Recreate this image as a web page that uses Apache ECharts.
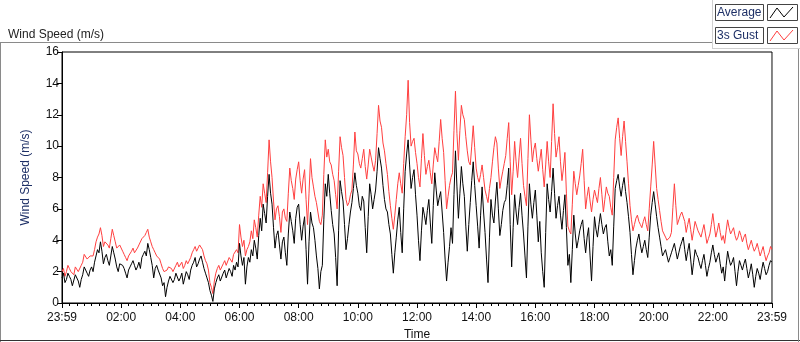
<!DOCTYPE html>
<html lang="en" style="height: 100%">
<head>
    <meta charset="utf-8"/>
    <meta name="viewport" content="width=device-width, initial-scale=1.0"/>
</head>
<body style="height: 100%; margin: 0; overflow: hidden; background: #fff">
<div id="container" style="width: 800px; height: 342px"></div>

<script type="text/javascript" src="https://cdn.jsdelivr.net/npm/echarts@6/dist/echarts.min.js"></script>

<script type="text/javascript">
    // one sample every 3 minutes, starting at 23:59 of the previous day
    var stepMin = 3;

    var tickLabels = ["23:59", "02:00", "04:00", "06:00", "08:00", "10:00", "12:00",
        "14:00", "16:00", "18:00", "20:00", "22:00", "23:59"];

    // Average wind speed (m/s), one row per hour
    var average = [
        1.6, 1.9, 1.3, 1.5, 1.9, 1.7, 1.5, 1.1, 1.2, 1.8, 1.7, 1.4, 1.0, 1.5, 1.8, 2.3, 2.2, 1.9, 1.7, 2.1,
        2.3, 2.0, 2.6, 3.0, 3.4, 3.2, 3.9, 3.3, 2.5, 2.9, 3.1, 2.7, 2.4, 3.0, 3.6, 3.2, 2.8, 2.3, 2.0, 2.5,
        2.6, 2.4, 2.2, 1.9, 1.6, 2.1, 2.3, 2.5, 2.7, 2.4, 2.1, 2.3, 2.6, 2.2, 2.9, 3.1, 3.3, 3.0, 3.8, 3.4,
        2.9, 2.4, 1.6, 2.2, 2.4, 2.1, 2.0, 1.6, 1.1, 1.3, 0.4, 1.0, 1.4, 1.7, 1.8, 1.3, 1.5, 1.9, 1.8, 1.4,
        1.6, 1.9, 1.2, 1.6, 2.0, 1.8, 1.5, 2.1, 2.4, 2.6, 2.9, 2.3, 2.5, 2.8, 3.0, 2.6, 2.2, 1.9, 1.6, 1.3,
        0.8, 0.5, 0.1, 0.9, 1.3, 1.6, 1.8, 1.4, 1.5, 1.9, 2.1, 1.6, 1.7, 2.2, 2.0, 1.7, 2.4, 2.1, 2.6, 2.3,
        3.8, 3.0, 2.4, 2.9, 1.2, 2.3, 2.9, 2.6, 3.4, 3.0, 4.0, 3.5, 2.8, 4.3, 5.4, 4.6, 6.3, 5.7, 5.1, 6.8,
        8.2, 7.0, 6.3, 4.8, 3.5, 4.3, 4.6, 3.7, 2.8, 3.9, 4.2, 3.2, 2.4, 4.4, 5.8, 5.2, 4.6, 3.8, 5.4, 6.1,
        6.3, 5.0, 4.0, 4.9, 5.5, 3.4, 1.2, 3.9, 5.8, 5.1, 4.8, 4.0, 3.0, 2.2, 0.9, 2.0, 2.4, 5.3, 7.6, 6.8,
        8.2, 7.0, 5.9, 5.0, 4.4, 2.9, 1.1, 4.6, 7.8, 7.1, 6.5, 5.0, 3.4, 4.1, 5.0, 5.8, 6.4, 7.3, 8.3, 7.5,
        7.0, 6.2, 5.9, 6.8, 6.5, 4.8, 3.2, 5.5, 7.6, 6.9, 6.0, 6.6, 7.2, 8.4, 9.9, 9.2, 8.6, 7.5, 6.6, 6.0,
        5.8, 5.0, 4.4, 3.1, 1.9, 3.2, 4.2, 5.3, 6.1, 4.5, 3.2, 6.0, 8.4, 9.5, 10.4, 8.8, 7.3, 8.0, 8.5, 6.9,
        5.6, 4.0, 2.7, 4.6, 6.1, 5.6, 5.0, 5.9, 6.6, 5.1, 3.8, 6.2, 8.3, 7.2, 6.2, 6.7, 7.1, 5.8, 4.5, 2.8,
        1.4, 2.6, 3.6, 4.8, 3.8, 6.9, 9.7, 7.4, 5.4, 7.0, 8.7, 7.6, 6.8, 4.9, 3.3, 5.0, 6.4, 7.8, 9.0, 7.5,
        6.2, 4.9, 3.5, 5.6, 7.4, 5.8, 4.5, 2.8, 1.3, 4.2, 6.6, 5.6, 5.1, 6.5, 7.7, 6.0, 4.3, 5.0, 5.9, 6.4,
        6.6, 7.5, 8.6, 5.0, 2.3, 4.8, 6.9, 5.8, 5.0, 6.1, 7.0, 5.6, 4.4, 3.0, 1.6, 4.9, 7.6, 6.3, 5.4, 6.4,
        7.2, 5.6, 3.9, 5.2, 3.2, 2.0, 1.0, 4.5, 7.6, 6.6, 5.8, 7.1, 8.6, 7.0, 5.4, 6.2, 6.8, 5.6, 4.7, 5.9,
        6.9, 4.8, 2.4, 3.1, 1.3, 3.4, 5.6, 4.4, 3.5, 4.0, 4.6, 5.0, 5.3, 4.1, 3.2, 4.2, 4.8, 3.0, 1.4, 3.6,
        5.5, 4.7, 4.2, 5.0, 5.7, 5.0, 4.4, 4.8, 5.0, 3.9, 3.0, 3.4, 2.4, 4.9, 7.3, 7.8, 8.2, 7.4, 6.8, 7.5,
        8.0, 7.1, 6.4, 5.5, 4.5, 3.1, 1.8, 2.7, 3.5, 4.0, 4.4, 3.7, 3.2, 3.6, 4.0, 3.4, 2.9, 4.2, 5.6, 6.4,
        7.1, 6.3, 5.5, 4.8, 4.2, 3.6, 3.0, 3.2, 3.4, 3.0, 2.6, 2.9, 3.2, 3.5, 3.8, 3.3, 2.8, 3.2, 3.6, 3.9,
        4.2, 3.4, 2.7, 3.3, 3.8, 2.8, 1.8, 2.6, 3.4, 3.1, 2.9, 2.5, 2.2, 2.7, 3.1, 2.4, 1.7, 2.2, 2.6, 3.2,
        3.7, 3.1, 2.6, 2.9, 3.2, 2.5, 1.9, 2.3, 1.4, 2.4, 3.3, 2.8, 2.4, 2.6, 2.9, 2.0, 1.1, 2.0, 2.7, 2.4,
        2.1, 2.5, 2.8, 2.2, 1.6, 2.0, 2.5, 1.8, 1.0, 1.7, 2.2, 1.9, 1.5, 2.1, 2.6, 2.2, 1.8, 2.0, 2.4, 2.7,
        2.6
    ];

    // 3 second gust (m/s)
    var gust = [
        2.0, 2.2, 1.7, 2.0, 2.4, 2.2, 2.0, 1.9, 1.8, 2.3, 2.2, 2.0, 1.9, 2.4, 2.6, 3.1, 3.0, 2.8, 2.7, 3.0,
        3.1, 3.0, 3.4, 3.9, 4.2, 4.4, 4.8, 4.3, 3.6, 3.9, 4.0, 3.7, 3.5, 4.1, 4.7, 4.3, 3.9, 3.5, 3.4, 3.7,
        3.6, 3.3, 3.1, 2.9, 2.7, 3.0, 2.9, 3.3, 3.5, 3.2, 3.3, 3.5, 3.7, 3.6, 4.1, 4.0, 4.3, 4.5, 4.7, 4.2,
        3.9, 3.6, 3.4, 3.2, 3.0, 2.9, 2.8, 2.5, 2.2, 2.0, 1.9, 2.1, 2.3, 2.4, 2.2, 2.0, 2.1, 2.4, 2.6, 2.3,
        2.4, 2.6, 2.2, 2.4, 2.7, 2.5, 2.6, 2.9, 3.2, 3.4, 3.6, 3.3, 3.5, 3.7, 3.8, 3.4, 3.0, 2.7, 2.5, 2.1,
        1.3, 1.0, 0.6, 1.4, 1.9, 2.2, 2.4, 2.1, 2.2, 2.5, 2.7, 2.4, 2.5, 2.9, 2.8, 2.6, 3.1, 3.0, 3.4, 3.2,
        5.0, 4.2, 3.6, 4.0, 3.0, 3.4, 3.6, 3.9, 4.6, 4.1, 5.3, 4.8, 4.2, 5.6, 6.8, 6.1, 7.6, 7.0, 6.4, 8.3,
        10.4, 9.0, 8.0, 6.5, 5.3, 6.0, 6.2, 5.5, 4.5, 5.8, 6.0, 5.4, 5.2, 7.0, 8.6, 7.8, 7.3, 6.6, 7.9, 8.5,
        9.0, 7.8, 7.0, 7.9, 8.5, 6.6, 5.0, 7.0, 9.2, 8.0, 7.4, 6.8, 6.4, 5.8, 5.2, 5.0, 5.6, 8.2, 10.4, 9.3,
        9.8, 9.0, 8.8, 8.2, 7.8, 6.9, 6.0, 8.4, 10.6, 9.9, 9.4, 8.0, 6.6, 6.2, 6.4, 6.9, 7.2, 8.8, 10.9, 9.7,
        9.5, 8.9, 8.6, 9.2, 9.8, 8.7, 7.9, 8.8, 9.8, 9.3, 8.8, 8.4, 9.1, 10.8, 12.6, 11.6, 11.2, 10.2, 9.7, 8.9,
        8.2, 7.1, 6.2, 5.4, 4.7, 5.6, 6.6, 7.6, 8.3, 7.6, 7.0, 8.9, 10.6, 12.0, 14.2, 11.5, 10.0, 10.3, 10.5, 9.6,
        8.9, 8.0, 7.4, 9.2, 10.8, 9.4, 8.2, 8.7, 9.1, 8.3, 7.6, 8.8, 9.9, 9.4, 9.0, 10.3, 11.7, 10.5, 9.6, 7.8,
        6.0, 6.8, 7.5, 8.0, 8.3, 11.0, 13.5, 10.8, 9.1, 11.0, 12.6, 12.0, 11.7, 10.6, 9.7, 9.0, 8.8, 10.0, 11.3, 9.9,
        8.6, 8.0, 7.7, 8.2, 8.8, 8.0, 7.2, 6.8, 6.4, 7.3, 8.0, 9.0, 9.9, 10.6, 10.2, 8.6, 7.3, 7.9, 8.4, 8.9,
        9.4, 10.5, 11.5, 9.0, 6.9, 8.4, 10.3, 9.0, 8.0, 9.3, 10.5, 8.9, 7.5, 6.8, 6.2, 9.2, 12.0, 10.4, 9.0, 9.8,
        10.2, 9.2, 8.4, 9.1, 9.8, 8.5, 7.4, 8.8, 10.3, 9.0, 8.0, 10.3, 12.7, 10.8, 9.3, 9.9, 10.6, 9.0, 7.8, 8.6,
        9.6, 7.0, 4.9, 4.6, 4.4, 6.3, 8.4, 7.6, 6.9, 7.5, 8.1, 8.9, 9.8, 7.8, 6.0, 6.8, 7.4, 6.5, 5.8, 6.6,
        7.2, 6.8, 6.4, 7.3, 8.0, 6.9, 5.8, 6.6, 7.4, 7.0, 6.8, 6.1, 5.6, 8.0, 10.4, 11.2, 11.8, 10.5, 9.4, 10.6,
        11.6, 10.3, 9.0, 7.6, 6.2, 5.3, 4.6, 5.0, 5.4, 5.6, 5.2, 5.0, 4.8, 5.2, 5.5, 5.0, 4.6, 6.0, 7.4, 8.8,
        10.3, 8.8, 7.3, 6.6, 5.9, 5.2, 4.6, 4.4, 4.2, 4.0, 3.9, 4.2, 4.5, 6.1, 7.6, 6.2, 5.0, 5.3, 5.6, 5.8,
        5.9, 5.2, 4.5, 5.0, 5.4, 4.7, 4.0, 4.6, 5.2, 4.9, 4.6, 4.4, 4.2, 4.6, 5.0, 4.4, 3.8, 4.1, 4.4, 5.0,
        5.7, 4.9, 4.2, 4.6, 5.1, 4.5, 4.0, 4.3, 3.8, 4.6, 5.3, 4.8, 4.4, 4.6, 4.8, 4.3, 4.0, 4.2, 4.6, 4.3,
        3.9, 4.2, 4.4, 3.8, 3.4, 3.7, 4.0, 3.6, 3.3, 3.5, 3.8, 3.4, 3.0, 3.3, 3.6, 3.1, 2.7, 3.0, 3.2, 3.6,
        3.4
    ];

    function pairs(values) {
        return values.map(function (v, i) {
            return [i * stepMin, v];
        });
    }

    var labelFont = "Liberation Sans";
    var navy = "#1d2f66";

    var dom = document.getElementById("container");
    var myChart = echarts.init(dom, null, {renderer: "canvas"});

    var option = {
        animation: false,
        backgroundColor: "#fff",
        title: {
            text: "Wind Speed (m/s)",
            left: 3,
            top: 24,
            textStyle: {fontFamily: labelFont, fontSize: 12, fontWeight: "normal", color: "#222"}
        },
        grid: {
            left: 62,
            right: 28,
            top: 52,
            bottom: 39,
            containLabel: false,
            outerBoundsMode: "none",
            show: true,
            borderColor: "#000",
            borderWidth: 1
        },
        xAxis: {
            type: "value",
            min: 0,
            max: 1440,
            interval: 120,
            name: "Time",
            nameLocation: "middle",
            nameGap: 26,
            nameTextStyle: {fontFamily: labelFont, fontSize: 12, color: "#111"},
            axisLine: {lineStyle: {color: "#000"}},
            axisTick: {length: 5, lineStyle: {color: "#000"}},
            minorTick: {show: true, splitNumber: 8, length: 3, lineStyle: {color: "#000"}},
            splitLine: {show: false},
            axisLabel: {
                margin: 9,
                fontFamily: labelFont,
                fontSize: 12,
                color: "#111",
                formatter: function (v) {
                    return tickLabels[Math.round(v / 120)];
                }
            }
        },
        yAxis: {
            type: "value",
            min: 0,
            max: 16,
            interval: 2,
            name: "Wind Speed (m/s)",
            nameLocation: "middle",
            nameGap: 30,
            nameTextStyle: {fontFamily: labelFont, fontSize: 12, color: navy},
            axisLine: {show: true, lineStyle: {color: "#000"}},
            axisTick: {show: true, length: 5, lineStyle: {color: "#000"}},
            splitLine: {show: false},
            axisLabel: {margin: 3, fontFamily: labelFont, fontSize: 12, color: "#111"}
        },
        series: [
            {
                name: "3s Gust",
                type: "line",
                data: pairs(gust),
                showSymbol: false,
                lineStyle: {color: "#ff3f3f", width: 1},
                itemStyle: {color: "#ff3f3f"}
            },
            {
                name: "Average",
                type: "line",
                data: pairs(average),
                showSymbol: false,
                lineStyle: {color: "#000", width: 1},
                itemStyle: {color: "#000"}
            }
        ],
        graphic: [
            // panel frame
            {type: "line", shape: {x1: 0, y1: 42.5, x2: 712, y2: 42.5}, style: {stroke: "#8a8a8a", lineWidth: 1}},
            {type: "line", shape: {x1: 0.5, y1: 42, x2: 0.5, y2: 342}, style: {stroke: "#8a8a8a", lineWidth: 1}},
            {type: "line", shape: {x1: 0, y1: 340.5, x2: 800, y2: 340.5}, style: {stroke: "#333", lineWidth: 1}},
            {type: "line", shape: {x1: 798.5, y1: 48, x2: 798.5, y2: 342}, style: {stroke: "#8a8a8a", lineWidth: 1}},
            {type: "line", shape: {x1: 712.5, y1: 0, x2: 712.5, y2: 48.5}, style: {stroke: "#d0d0d0", lineWidth: 1}},
            {type: "line", shape: {x1: 712, y1: 48.5, x2: 800, y2: 48.5}, style: {stroke: "#d0d0d0", lineWidth: 1}},
            // right border of the plot is grey
            {type: "line", shape: {x1: 772.5, y1: 53, x2: 772.5, y2: 303}, style: {stroke: "#8a8a8a", lineWidth: 1}, z: 10},
            // legend
            {type: "rect", shape: {x: 715.5, y: 4.5, width: 48, height: 16}, style: {fill: "#fff", stroke: "#444", lineWidth: 1}},
            {type: "text", style: {x: 717, y: 12.5, text: "Average", font: "12px Liberation Sans", fill: navy, textVerticalAlign: "middle"}},
            {type: "rect", shape: {x: 767.5, y: 4.5, width: 30, height: 16}, style: {fill: "#fff", stroke: "#444", lineWidth: 1}},
            {type: "polyline", shape: {points: [[770, 18], [777, 8], [784, 17], [793, 7]]}, style: {stroke: "#000", lineWidth: 1, fill: null}},
            {type: "rect", shape: {x: 715.5, y: 27.5, width: 48, height: 16}, style: {fill: "#fff", stroke: "#444", lineWidth: 1}},
            {type: "text", style: {x: 717, y: 35.5, text: "3s Gust", font: "12px Liberation Sans", fill: navy, textVerticalAlign: "middle"}},
            {type: "rect", shape: {x: 767.5, y: 27.5, width: 30, height: 16}, style: {fill: "#fff", stroke: "#444", lineWidth: 1}},
            {type: "polyline", shape: {points: [[770, 41], [777, 31], [784, 40], [793, 30]]}, style: {stroke: "#ff3f3f", lineWidth: 1, fill: null}}
        ]
    };

    myChart.setOption(option);
    window.addEventListener("resize", myChart.resize);
</script>
</body>
</html>
